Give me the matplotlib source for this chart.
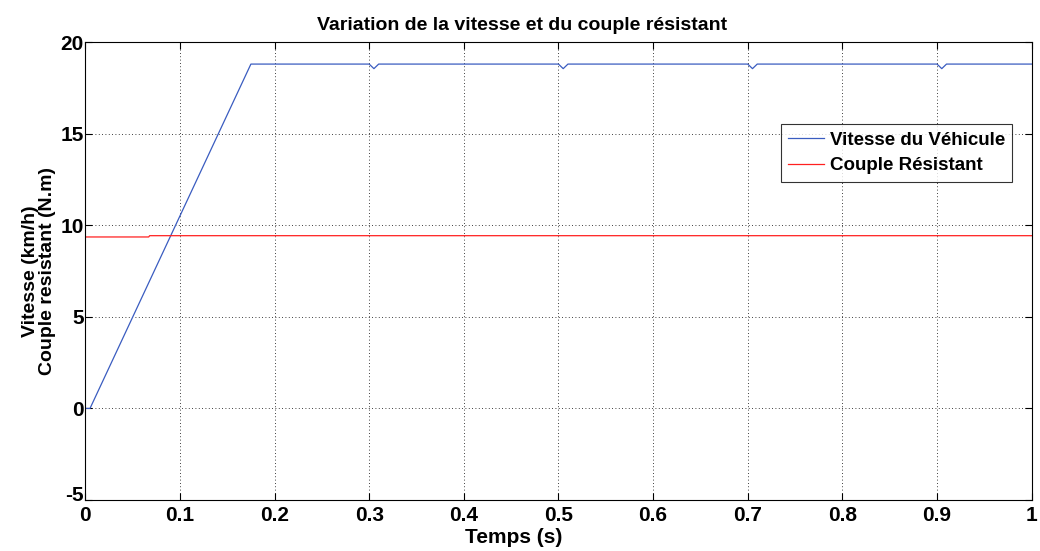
import matplotlib
matplotlib.use('Agg')
import matplotlib.pyplot as plt
import matplotlib.transforms as mtransforms

# vitesse du vehicule (km/h)
t_vit = [0.0, 0.005, 0.175, 0.300, 0.305, 0.310, 0.500, 0.505, 0.510,
         0.700, 0.705, 0.710, 0.900, 0.905, 0.910, 1.0]
vitesse = [0.0, 0.0, 18.8, 18.8, 18.55, 18.8, 18.8, 18.55, 18.8,
           18.8, 18.55, 18.8, 18.8, 18.55, 18.8, 18.8]

# couple resistant (N.m)
t_cr = [0.0, 0.067, 0.068, 1.0]
couple = [9.36, 9.36, 9.43, 9.43]

xticks = [0, 0.1, 0.2, 0.3, 0.4, 0.5, 0.6, 0.7, 0.8, 0.9, 1]
xlabels = ['0', '0.1', '0.2', '0.3', '0.4', '0.5', '0.6', '0.7', '0.8', '0.9', '1']
yticks = [-5, 0, 5, 10, 15, 20]
ylabels = ['-5', '0', '5', '10', '15', '20']

plt.rcParams['font.family'] = ['Liberation Sans', 'DejaVu Sans']
plt.rcParams['font.weight'] = 'bold'
plt.rcParams['axes.unicode_minus'] = False

fig = plt.figure(figsize=(10.4, 5.51), dpi=100)
ax = fig.add_axes([0.082, 0.0926, 0.91, 0.831])

ax.plot(t_vit, vitesse, color='#3a5cc0', lw=0.9, label='Vitesse du Véhicule')
ax.plot(t_cr, couple, color='#ff2020', lw=0.9, label='Couple Résistant')

ax.set_xlim(0, 1)
ax.set_ylim(-5, 20)
ax.set_xticks(xticks)
ax.set_xticklabels(xlabels)
ax.set_yticks(yticks)
ax.set_yticklabels(ylabels)
ax.tick_params(direction='in', top=True, right=True, labelsize=15, length=5)
ax.tick_params(axis='x', pad=4)
ax.tick_params(axis='y', pad=1)
for lab in ax.get_xticklabels() + ax.get_yticklabels():
    lab.set_fontweight('bold')
# "-5" sits a little higher, just above the "0" of the x axis
lab_m5 = ax.get_yticklabels()[0]
lab_m5.set_transform(lab_m5.get_transform() + mtransforms.ScaledTranslation(0, 6 / 100, fig.dpi_scale_trans))

ax.grid(True, color='black', linestyle=(0, (1, 3)), lw=0.6)
for s in ax.spines.values():
    s.set_linewidth(0.8)

ax.set_title('Variation de la vitesse et du couple résistant', fontsize=14, fontweight='bold',
             x=0.461, pad=9)
ax.set_xlabel('Temps (s)', fontsize=15, fontweight='bold', labelpad=-3)
ax.xaxis.set_label_coords(0.453, -0.062)
ax.xaxis.label.set_va('top')
ax.set_ylabel('Vitesse (km/h)\nCouple resistant (N.m)', fontsize=14, fontweight='bold', labelpad=3, linespacing=1.05)

leg = ax.legend(loc='upper left', bbox_to_anchor=(0.735, 0.821), fontsize=13.5, frameon=True,
                fancybox=False, edgecolor='black', borderpad=0.4, handlelength=1.9,
                handletextpad=0.3, labelspacing=0.45, borderaxespad=0)
leg.get_frame().set_linewidth(0.8)
for txt in leg.get_texts():
    txt.set_fontweight('bold')

fig.savefig('out.png', dpi=100)
